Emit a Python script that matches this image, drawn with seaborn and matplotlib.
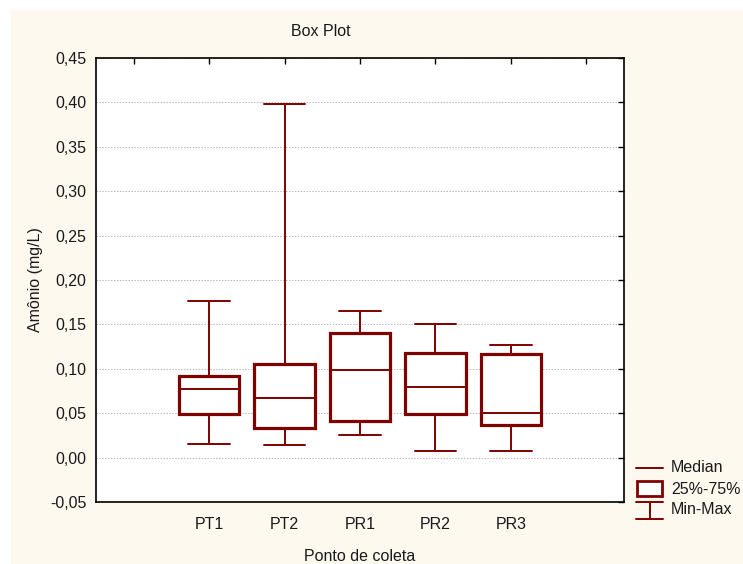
import numpy as np
import pandas as pd
import matplotlib
matplotlib.use("Agg")
import matplotlib.pyplot as plt
from matplotlib.lines import Line2D
from matplotlib.patches import Rectangle
import seaborn as sns

# ---- data ----
categories = ["PT1", "PT2", "PR1", "PR2", "PR3"]
mins    = [0.015, 0.014, 0.026, 0.007, 0.007]
q1s     = [0.049, 0.033, 0.041, 0.049, 0.037]
medians = [0.077, 0.067, 0.099, 0.080, 0.050]
q3s     = [0.092, 0.105, 0.140, 0.118, 0.117]
maxs    = [0.176, 0.398, 0.165, 0.151, 0.127]
yticks  = [-0.05, 0.00, 0.05, 0.10, 0.15, 0.20, 0.25, 0.30, 0.35, 0.40, 0.45]
legend_labels = ["Median", "25%-75%", "Min-Max"]

# five points per group reproduce min/q1/median/q3/max exactly
rows = []
for c, a, b, m, d, e in zip(categories, mins, q1s, medians, q3s, maxs):
    for v in (a, b, m, d, e):
        rows.append({"Ponto de coleta": c, "value": v})
df = pd.DataFrame(rows)

sns.set_theme(style="white")
plt.rcParams["font.family"] = ["Liberation Sans", "DejaVu Sans"]

FS = 11.5
TXT = "#1a1a1a"
W, H = 743, 564
fig = plt.figure(figsize=(W / 100, H / 100), dpi=100)
fig.patch.set_facecolor("white")
fig.add_artist(Rectangle((11, 0), W - 11, H - 10, transform=None,
                         facecolor="#fef9ef", edgecolor="none", zorder=-10))

ax = fig.add_axes([96 / W, (H - 502) / H, (624 - 96) / W, (502 - 58) / H])
ax.set_facecolor("white")

maroon = "#800000"
order = [" "] + categories + ["  "]
sns.boxplot(data=df, x="Ponto de coleta", y="value", order=order, ax=ax,
            whis=(0, 100), showfliers=False, width=0.8, color="white",
            saturation=1, linecolor=maroon, linewidth=1.4,
            boxprops=dict(linewidth=2.3, edgecolor=maroon),
            medianprops=dict(linewidth=1.4, color=maroon),
            whiskerprops=dict(linewidth=1.4, color=maroon),
            capprops=dict(linewidth=1.4, color=maroon),
            capwidths=0.55)

ax.set_xlim(-0.5, len(order) - 0.5)
ax.set_ylim(-0.05, 0.45)
ax.set_yticks(yticks)
ax.set_yticklabels([f"{t:.2f}".replace(".", ",") for t in yticks])
ax.set_xticks(range(len(order)))
ax.set_xticklabels([o.strip() for o in order])

ax.set_axisbelow(True)
ax.yaxis.grid(True, linestyle=(0, (1.5, 1.5)), color="#b8b8b8", linewidth=0.7)
ax.xaxis.grid(False)

for s in ax.spines.values():
    s.set_visible(True)
    s.set_color("black")
    s.set_linewidth(1.2)

ax.tick_params(axis="both", direction="in", length=4, width=1, color="black",
               top=True, right=True, labelsize=FS, labelcolor=TXT)
ax.tick_params(axis="x", pad=11)
ax.tick_params(axis="y", pad=7)

ax.set_xlabel("Ponto de coleta", fontsize=FS, color=TXT, labelpad=12)
ax.set_ylabel("Amônio (mg/L)", fontsize=FS, color=TXT, labelpad=5)
fig.text(321 / W, 1 - 32 / H, "Box Plot", ha="center", va="center",
         fontsize=FS, color=TXT)

# ---- legend (decoration, drawn in pixel coordinates) ----
def py(y):
    return H - y

fig.add_artist(Line2D([636, 663], [py(468), py(468)], transform=None,
                      color=maroon, lw=1.4))
fig.add_artist(Rectangle((637, py(496)), 25, 15, transform=None,
                         facecolor="white", edgecolor=maroon, lw=2.0))
fig.add_artist(Line2D([636, 663], [py(502), py(502)], transform=None,
                      color=maroon, lw=1.4))
fig.add_artist(Line2D([636, 663], [py(519), py(519)], transform=None,
                      color=maroon, lw=1.4))
fig.add_artist(Line2D([650, 650], [py(502), py(519)], transform=None,
                      color=maroon, lw=1.4))
for lab, yy in zip(legend_labels, [468, 489, 510]):
    fig.text(671 / W, 1 - yy / H, lab, ha="left", va="center",
             fontsize=FS, color=TXT)

fig.savefig("out.png", dpi=100, facecolor=fig.get_facecolor())
